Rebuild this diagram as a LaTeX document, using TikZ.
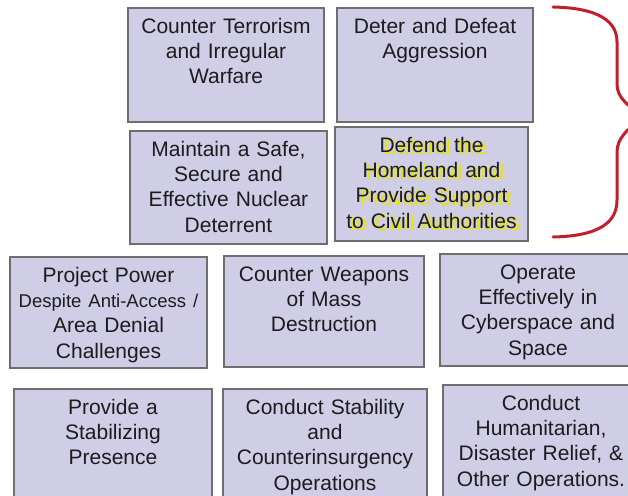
\documentclass[tikz,border=0pt]{standalone}
\usepackage{fontspec}
\setmainfont{Liberation Sans}
\definecolor{boxfill}{RGB}{208,205,231}
\definecolor{boxline}{RGB}{110,110,112}
\definecolor{bracered}{RGB}{196,30,42}
\definecolor{hiyellow}{RGB}{232,230,0}
\definecolor{txtcol}{RGB}{28,28,28}
\tikzset{
  goalbox/.style={draw=boxline, fill=boxfill, line width=1.5pt, inner sep=0pt, rectangle},
  goaltxt/.style={anchor=north, inner sep=0pt, text width=204pt, align=center,
    text=txtcol, font=\fontsize{21}{25.3}\selectfont},
  bracestyle/.style={draw=bracered, line width=3pt, line cap=round}
}
\newcommand{\gbox}[6]{% name, x1, y1, x2, y2, text
  \node[goalbox, minimum width={#4-#2}, minimum height={#5-#3}] (#1) at ({(#2+#4)/2},{(#3+#5)/2}) {};
  \node[goaltxt] (#1-t) at ([yshift=-8pt]#1.north) {\strut #6};
}
\begin{document}
\begin{tikzpicture}[x=1pt,y=-1pt]
\useasboundingbox (0,0) rectangle (628,495);
\clip (0,0) rectangle (628,495);
\fill[white] (0,0) rectangle (628,495);
\gbox{ct}{128}{8}{324}{122}{Counter Terrorism\\and Irregular\\Warfare}
\gbox{dd}{337}{8}{533}{122}{Deter and Defeat\\Aggression}
\gbox{mn}{130}{131}{327}{244}{Maintain a Safe,\\Secure and\\Effective Nuclear\\Deterrent}
\node[goalbox, minimum width=193pt, minimum height=114pt] (dh) at (431.5,184) {};
\node[goaltxt, text=hiyellow] (dh-y) at ([xshift=4pt,yshift=-10.5pt]dh.north) {\strut Defend the\\Homeland and\\Provide Support\\to Civil Authorities};
\node[goaltxt] (dh-t) at ([yshift=-8pt]dh.north) {\strut Defend the\\Homeland and\\Provide Support\\to Civil Authorities};
\gbox{pp}{10}{257}{207}{368}{Project Power\\{\fontsize{18.5}{25.3}\selectfont Despite Anti-Access /}\\Area Denial\\Challenges}
\gbox{wmd}{224}{256}{424}{367}{Counter Weapons\\of Mass\\Destruction}
\gbox{cy}{440}{254}{636}{366}{Operate\\Effectively in\\Cyberspace and\\Space}
\gbox{ps}{14}{389}{212}{502}{Provide a\\Stabilizing\\Presence}
\gbox{cs}{223}{389}{427}{502}{Conduct Stability\\and\\Counterinsurgency\\Operations}
\gbox{hu}{443}{385}{639}{502}{Conduct\\Humanitarian,\\Disaster Relief, \&\\Other Operations.}
\coordinate (btop) at (553,7);
\coordinate (btip) at (645,117);
\coordinate (bbot) at (553,237);
\draw[bracestyle] (btop) .. controls (600,8) and (617,22) .. (617,42) -- (617,84)
  .. controls (617,98) and (628,106) .. (btip)
  .. controls (628,128) and (617,138) .. (617,152) -- (617,200)
  .. controls (617,222) and (600,236) .. (bbot);
\end{tikzpicture}
\end{document}
